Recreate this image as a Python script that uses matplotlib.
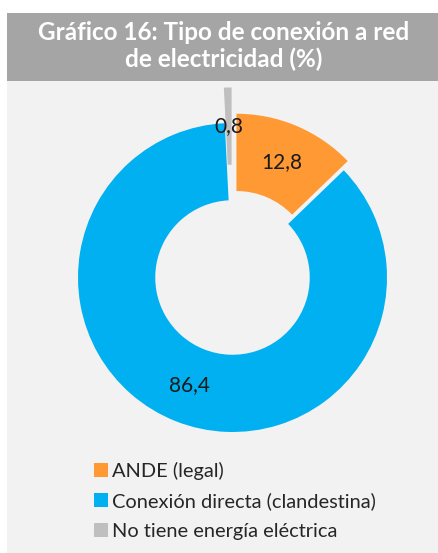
import matplotlib
matplotlib.use("Agg")
import matplotlib.pyplot as plt
from matplotlib.patches import Rectangle

# datos del grafico
categorias = ["ANDE (legal)", "Conexión directa (clandestina)", "No tiene energía eléctrica"]
valores = [12.8, 86.4, 0.8]
colores = ["#FF9933", "#00B0F0", "#BFBFBF"]
separacion = [0.065, 0.0, 0.23]
titulo = "Gráfico 16: Tipo de conexión a red\nde electricidad (%)"

W, H = 438, 553
plt.rcParams["font.family"] = ["Lato", "DejaVu Sans"]

fig = plt.figure(figsize=(W / 100, H / 100), dpi=100)
fig.patch.set_facecolor("white")

# fondos: barra del titulo y panel gris claro
fig.patches.append(Rectangle((7 / W, 1 - 81 / H), 1 - 7 / W, 68 / H,
                             transform=fig.transFigure, facecolor="#A5A5A5",
                             edgecolor="none", zorder=-10))
fig.patches.append(Rectangle((7 / W, 0), 1 - 7 / W, 1 - 81 / H,
                             transform=fig.transFigure, facecolor="#F2F2F2",
                             edgecolor="none", zorder=-10))

fig.text(224 / W, 1 - 46 / H, titulo, ha="center", va="center", color="white",
         fontsize=17.5, fontweight="bold", linespacing=1.17)

# dona
cx, cy, r = 232.5, 277.5, 154.5
lim = 1.3
side = 2 * lim * r
ax = fig.add_axes([(cx - side / 2) / W, (H - cy - side / 2) / H, side / W, side / H])
ax.set_facecolor("none")

def fmt(p):
    return f"{p:.1f}".replace(".", ",")

wedges, textos, autotextos = ax.pie(
    valores, colors=colores, explode=separacion, startangle=90, counterclock=False,
    autopct=fmt, pctdistance=0.75, radius=1,
    wedgeprops=dict(width=0.5, edgecolor="none"),
    textprops=dict(fontsize=15, color="#1A1A1A"))
ax.set_xlim(-lim, lim)
ax.set_ylim(-lim, lim)
ax.set_aspect("equal")
ax.axis("off")

fig.legend(wedges, categorias, loc="upper left",
           bbox_to_anchor=(94 / W, 1 - 462 / H), frameon=False,
           fontsize=14.4, handlelength=0.68, handleheight=0.68,
           handletextpad=0.2, labelspacing=0.62, labelcolor="#262626",
           borderpad=0, borderaxespad=0)

fig.savefig("out.png", dpi=100, facecolor=fig.get_facecolor())
